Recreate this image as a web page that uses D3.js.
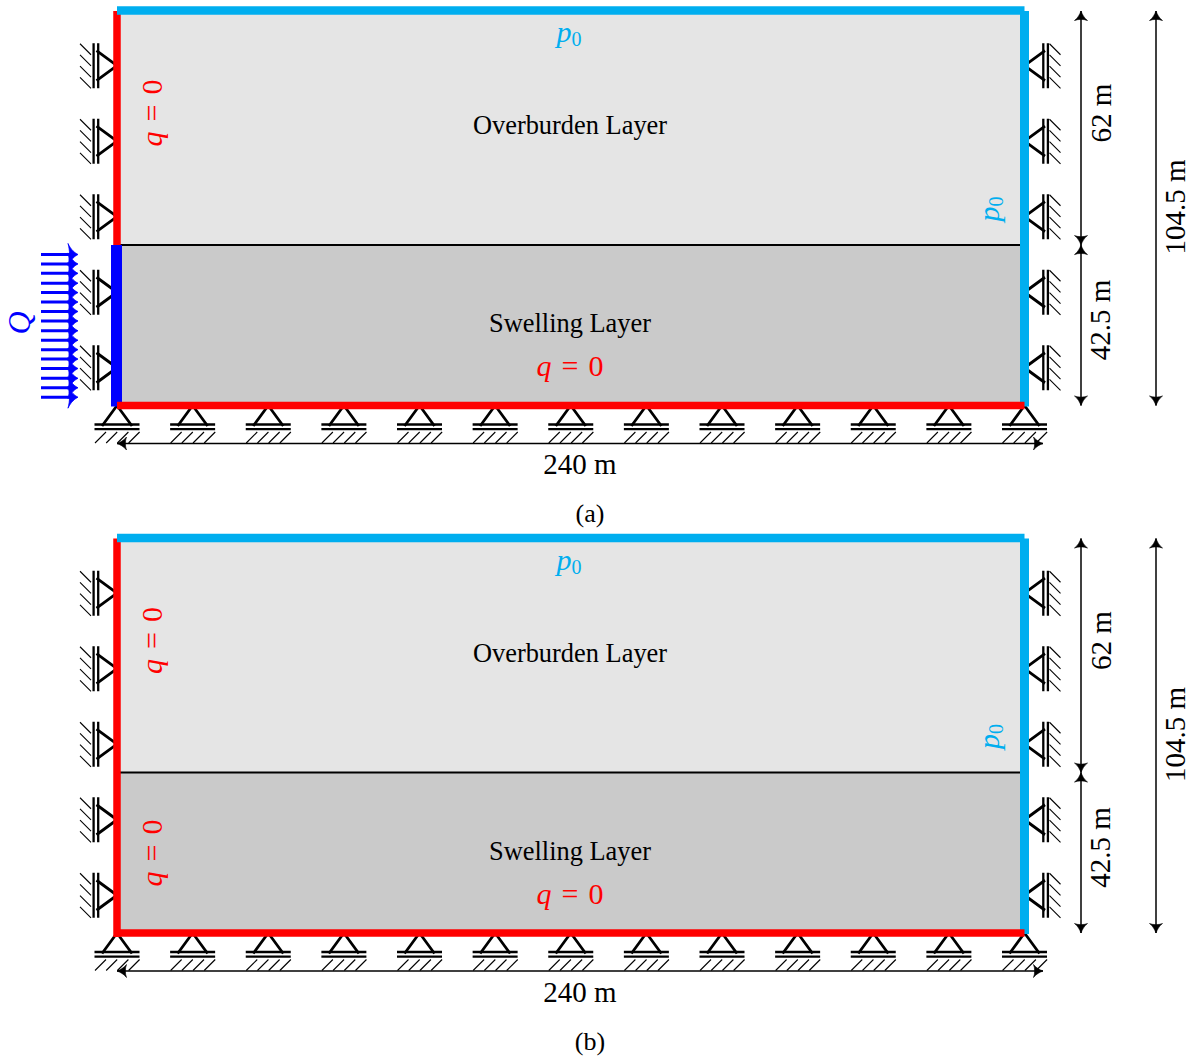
<!DOCTYPE html>
<html lang="en">
<head>
<meta charset="UTF-8" />
<title>Boundary conditions</title>
<script src="https://d3js.org/d3.v7.min.js"></script>
<style>
  body { margin: 0; background: #fff; }
  svg { display: block; }
  text { font-family: 'Liberation Serif', serif; fill: #000; }
</style>
</head>
<body>
<svg id="chart" width="1195" height="1061"></svg>
<script>
// model geometry in metres
const domainWidth = 240;
const layerNames = ["Overburden Layer", "Swelling Layer"];
const layerThickness = [62, 42.5];
const layerFill = ["#e5e5e5", "#cacaca"];
const totalHeight = 104.5;

const bottomSupports = [0, 20, 40, 60, 80, 100, 120, 140, 160, 180, 200, 220, 240];
const sideSupports = [10, 30, 50, 70, 90];
const fluxArrows = [2.2, 4.7, 7.2, 9.8, 12.3, 14.8, 17.3, 19.8, 22.4, 24.9, 27.4, 29.9, 32.4, 35, 37.5, 40];

const panelLabels = ["(a)", "(b)"];
const panelTop = [11, 538.5];
const panelHasInflow = [true, false];

const RED = "#ff0000", CYAN = "#00aeef", BLUE = "#0000ff";
const svg = d3.select("#chart");

const x = d3.scaleLinear().domain([0, domainWidth]).range([117, 1024.5]);

function arrowHead(g, px, py, angle) {
  // latex style head, tip at px,py
  g.append("path")
    .attr("d", "M0,0 C-3,-1.2 -7,-3 -9.5,-6.5 C-8,-3 -8,3 -9.5,6.5 C-7,3 -3,1.2 0,0 Z")
    .attr("transform", `translate(${px},${py}) rotate(${angle})`)
    .attr("fill", "#000").attr("stroke", "#000").attr("stroke-width", 0.6);
}

function dimension(g, x1, y1, x2, y2) {
  g.append("line").attr("x1", x1).attr("y1", y1).attr("x2", x2).attr("y2", y2)
    .attr("stroke", "#000").attr("stroke-width", 1.5);
  const a = Math.atan2(y2 - y1, x2 - x1) * 180 / Math.PI;
  arrowHead(g, x2, y2, a);
  arrowHead(g, x1, y1, a + 180);
}

function sideSupport(g, wallX, cy, dir) {
  // dir -1 = left wall, 1 = right wall
  const s = g.append("g").attr("stroke", "#000").attr("fill", "none");
  s.append("path")
    .attr("d", `M${wallX},${cy} L${wallX + dir * 20.5},${cy - 15} M${wallX},${cy} L${wallX + dir * 20.5},${cy + 15}`)
    .attr("stroke-width", 2.8);
  [18.8, 23.4].forEach(o => s.append("line")
    .attr("x1", wallX + dir * o).attr("x2", wallX + dir * o)
    .attr("y1", cy - 22.5).attr("y2", cy + 22.5).attr("stroke-width", 2.3));
  const start = dir < 0 ? wallX - 37 : wallX + 25;
  d3.range(4).forEach(i => s.append("line")
    .attr("x1", start).attr("y1", cy - 22 + i * 11.2)
    .attr("x2", start + 11).attr("y2", cy - 11 + i * 11.2)
    .attr("stroke-width", 1.1));
}

function bottomSupport(g, cx, wallY) {
  const s = g.append("g").attr("stroke", "#000").attr("fill", "none");
  s.append("path")
    .attr("d", `M${cx},${wallY} L${cx - 15},${wallY + 20.5} M${cx},${wallY} L${cx + 15},${wallY + 20.5}`)
    .attr("stroke-width", 2.8);
  [19, 23.7].forEach(o => s.append("line")
    .attr("x1", cx - 22.5).attr("x2", cx + 22.5)
    .attr("y1", wallY + o).attr("y2", wallY + o).attr("stroke-width", 2.3));
  d3.range(4).forEach(i => s.append("line")
    .attr("x1", cx - 22 + i * 11.2).attr("y1", wallY + 37.5)
    .attr("x2", cx - 11 + i * 11.2).attr("y2", wallY + 26.5)
    .attr("stroke-width", 1.1));
}

// p with subscript 0, colored, optionally rotated
function pLabel(g, px, py, rotate) {
  const t = g.append("text").style("fill", CYAN)
    .attr("text-anchor", "middle").attr("font-size", 30)
    .attr("transform", `translate(${px},${py}) rotate(${rotate})`);
  t.append("tspan").attr("font-style", "italic").text("p");
  t.append("tspan").attr("font-size", 20).attr("dy", 4).text("0");
}

function qLabel(g, px, py, rotate) {
  const t = g.append("text").style("fill", RED)
    .attr("text-anchor", "middle").attr("font-size", 30)
    .attr("transform", `translate(${px},${py}) rotate(${rotate})`);
  t.append("tspan").attr("font-style", "italic").text("q");
  t.append("tspan").attr("dx", 10).text("=");
  t.append("tspan").attr("dx", 10).text("0");
}

function plainLabel(g, s, px, py, rotate, size) {
  g.append("text").attr("text-anchor", "middle").attr("font-size", size)
    .attr("transform", `translate(${px},${py}) rotate(${rotate})`).text(s);
}

function drawPanel(top, label, inflow) {
  const g = svg.append("g");
  const y = d3.scaleLinear().domain([totalHeight, 0]).range([top, top + 394.5]);
  const interfaceZ = layerThickness[1];

  // supports go under the walls
  sideSupports.forEach(z => {
    sideSupport(g, x(0), y(z), -1);
    sideSupport(g, x(domainWidth), y(z), 1);
  });
  bottomSupports.forEach(d => bottomSupport(g, x(d), y(0)));

  // layers
  g.append("rect").attr("x", x(0)).attr("y", y(totalHeight))
    .attr("width", x(domainWidth) - x(0)).attr("height", y(interfaceZ) - y(totalHeight))
    .attr("fill", layerFill[0]);
  g.append("rect").attr("x", x(0)).attr("y", y(interfaceZ))
    .attr("width", x(domainWidth) - x(0)).attr("height", y(0) - y(interfaceZ))
    .attr("fill", layerFill[1]);
  g.append("line").attr("x1", x(0)).attr("x2", x(domainWidth))
    .attr("y1", y(interfaceZ)).attr("y2", y(interfaceZ))
    .attr("stroke", "#000").attr("stroke-width", 2);

  // walls
  const wall = (x1, y1, x2, y2, c, w) => g.append("line")
    .attr("x1", x1).attr("y1", y1).attr("x2", x2).attr("y2", y2)
    .attr("stroke", c).attr("stroke-width", w);
  wall(x(0), y(totalHeight), x(0), y(inflow ? interfaceZ : 0) + (inflow ? 0 : 4), RED, 7.5);
  wall(x(0), y(totalHeight) - 0.5, x(domainWidth), y(totalHeight) - 0.5, CYAN, 8.5);
  wall(x(domainWidth), y(totalHeight), x(domainWidth), y(0) + 1, CYAN, 9);
  if (inflow) wall(x(0) - 0.5, y(interfaceZ), x(0) - 0.5, y(0) + 1, BLUE, 11);
  wall(x(0), y(0), x(domainWidth), y(0), RED, 7.5);

  // inflow arrows
  if (inflow) {
    const q = g.append("g");
    fluxArrows.forEach(z => {
      q.append("line").attr("x1", 41).attr("x2", 74)
        .attr("y1", y(z)).attr("y2", y(z))
        .attr("stroke", BLUE).attr("stroke-width", 3);
      q.append("path")
        .attr("d", "M0,0 C-3,-1.5 -7,-4.5 -10,-11 C-8,-4 -8,4 -10,11 C-7,4.5 -3,1.5 0,0 Z")
        .attr("transform", `translate(78,${y(z)})`)
        .attr("fill", BLUE).attr("stroke", BLUE).attr("stroke-width", 0.8);
    });
    g.append("text").style("fill", BLUE)
      .attr("text-anchor", "middle").attr("font-size", 32).attr("font-style", "italic")
      .attr("transform", `translate(30,${top + 312}) rotate(-90)`).text("Q");
  }

  // text
  plainLabel(g, layerNames[0], 570, top + 123, 0, 26.4);
  plainLabel(g, layerNames[1], 570, top + 321, 0, 26.4);
  pLabel(g, 569, top + 31, 0);
  pLabel(g, 999, top + 198, -90);
  qLabel(g, 570, top + 365, 0);
  qLabel(g, 162, top + 102, -90);
  if (!inflow) qLabel(g, 162, top + 314.5, -90);

  // dimensions
  dimension(g, 1081, y(totalHeight), 1081, y(interfaceZ));
  dimension(g, 1081, y(interfaceZ), 1081, y(0));
  dimension(g, 1156, y(totalHeight), 1156, y(0));
  dimension(g, 117, top + 432.5, 1043, top + 432.5);
  plainLabel(g, `${domainWidth} m`, 580, top + 463, 0, 29);
  plainLabel(g, `${layerThickness[0]} m`, 1111, top + 102, -90, 29);
  plainLabel(g, `${layerThickness[1]} m`, 1110, top + 309, -90, 29);
  plainLabel(g, `${totalHeight} m`, 1185, top + 196, -90, 29);
  plainLabel(g, label, 590, top + 511, 0, 26);
}

panelTop.forEach((t, i) => drawPanel(t, panelLabels[i], panelHasInflow[i]));
</script>
</body>
</html>
